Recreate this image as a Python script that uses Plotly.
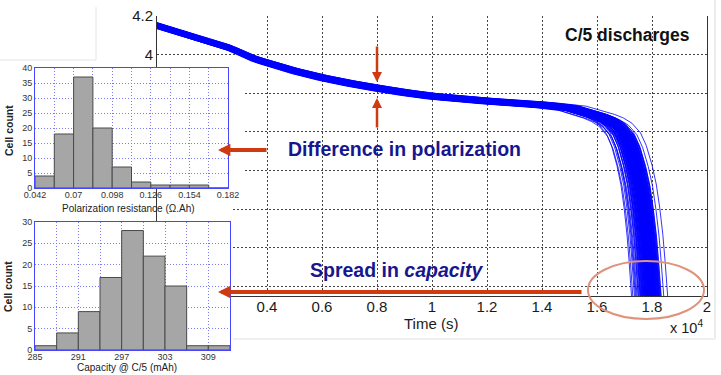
import plotly.graph_objects as go

# ---------------- data ----------------
# C/5 capacity of every cell in the batch (mAh)
CELL_CAPACITY_MAH = [
    287.8,
    288.7, 289.6, 290.1, 290.7,
    291.3, 291.8, 292.1, 292.6, 292.9, 293.2, 293.4, 293.7, 293.9,
    294.2, 294.4, 294.5, 294.8, 295.0, 295.2, 295.3, 295.5, 295.7, 295.9,
    296.0, 296.2, 296.4, 296.5, 296.7, 296.8, 296.9,
    297.05, 297.1, 297.3, 297.4, 297.5, 297.6, 297.8, 297.9, 298.0, 298.1,
    298.2, 298.3, 298.4, 298.5, 298.6, 298.7, 298.8, 298.9, 299.0, 299.1,
    299.2, 299.3, 299.4, 299.5, 299.6, 299.7, 299.8, 299.9,
    300.1, 300.2, 300.4, 300.5, 300.6, 300.8, 300.9, 301.0, 301.2, 301.3,
    301.4, 301.6, 301.7, 301.8, 302.0, 302.1, 302.2, 302.4, 302.5, 302.6,
    302.8, 302.9,
    303.1, 303.3, 303.5, 303.6, 303.8, 304.0, 304.2, 304.3, 304.5, 304.7,
    304.9, 305.1, 305.3, 305.6, 305.9,
    307.4,
    309.7,
]

# polarization voltage shift of every cell relative to the reference profile (mV)
CELL_SHIFT_MV = [
    6, -9, 2, 12, -4, -13, 8, 0, -6, 15,
    -2, 4, -10, 10, -7, 1, 13, -3, -12, 7,
    3, -8, 11, -1, 5, -14, 9, -5, 0, 14,
    -11, 2, 6, -4, 8, -9, -2, 12, 4, -6,
    1, -13, 10, -1, 5, -7, 3, 16, -3, 7,
    -10, 0, 11, -5, 2, -8, 9, -15, 4, -2,
    13, -6, 1, 6, -12, 8, -4, 3, 10, -1,
    -9, 5, -3, 12, 0, -7, 7, -11, 2, 14,
    -5, 4, -2, 9, -8, 1, 11, -4, 6, -16,
    3, -10, 8, -1, 5, -6, 0, 10,
]

# reference C/5 discharge profile (cell of REF_CAPACITY_MAH)
REF_CAPACITY_MAH = 297.7
REF_TIME_S = [0, 500, 1000, 1500, 2000, 2300, 2600, 2900, 3200, 3500,
              3800, 4100, 5000, 6000, 7000, 8000, 9000, 10000, 11000, 12000,
              13000, 14000, 15000, 15500, 16000, 16300, 16600, 16900, 17100, 17300,
              17450, 17570, 17680, 17760, 17830, 17860, 17900]
REF_VOLT = [4.150, 4.128, 4.106, 4.085, 4.062, 4.050, 4.036, 4.018, 3.998, 3.980,
            3.966, 3.953, 3.915, 3.880, 3.851, 3.826, 3.803, 3.784, 3.770, 3.759,
            3.749, 3.739, 3.723, 3.703, 3.680, 3.662, 3.635, 3.585, 3.520, 3.420,
            3.320, 3.200, 3.060, 2.920, 2.790, 2.740, 2.640]

# polarization resistance histogram (Ohm.Ah)
POL_BIN_START = 0.042
POL_BIN_WIDTH = 0.014
POL_COUNTS = [4, 18, 37, 20, 7, 2, 1, 1, 1, 0]
POL_TICKS = [0.042, 0.07, 0.098, 0.126, 0.154, 0.182]

# capacity histogram bins (mAh)
CAP_BIN_START, CAP_BIN_END, CAP_BIN_WIDTH = 285, 312, 3
CAP_TICKS = [285, 291, 297, 303, 309]

# main axes ticks
TIME_TICKS_S = [4000, 6000, 8000, 10000, 12000, 14000, 16000, 18000, 20000]
TIME_TICK_TEXT = ["0.4", "0.6", "0.8", "1", "1.2", "1.4", "1.6", "1.8", "2"]
VOLT_TICKS = [2.8, 3.0, 3.2, 3.4, 3.6, 3.8, 4.0, 4.2]
VOLT_TICK_TEXT = ["", "", "", "", "", "", "4", "4.2"]

# ---------------- geometry helpers ----------------
W, H = 721, 375
FONT = "Liberation Sans, Arial, sans-serif"
NAVY = "#16168f"
RED = "#d03a10"


def fx(px):
    return px / W


def fy(py):
    return 1 - py / H


# main plot frame in pixels
MX0, MX1, MY0, MY1 = 157, 707, 16, 296
T_MAX, V_MIN, V_MAX = 20000, 2.75, 4.2


def t_of(px):
    return (px - MX0) / (MX1 - MX0) * T_MAX


def v_of(py):
    return V_MAX - (py - MY0) / (MY1 - MY0) * (V_MAX - V_MIN)


# ---------------- curves ----------------
xs, ys = [], []
for cap, shift in zip(CELL_CAPACITY_MAH, CELL_SHIFT_MV):
    k = cap / REF_CAPACITY_MAH
    xs += [t * k for t in REF_TIME_S] + [None]
    ys += [v + shift / 1000.0 for v in REF_VOLT] + [None]

fig = go.Figure()

# white panel under the insets (hides the main grid there)
cover_px = [(100, 60), (245, 60), (245, 200), (232, 200), (232, 320), (100, 320)]
fig.add_trace(go.Scatter(
    x=[t_of(p[0]) for p in cover_px], y=[v_of(p[1]) for p in cover_px],
    fill="toself", fillcolor="white", mode="lines", line=dict(width=0, color="white"),
    hoverinfo="skip", showlegend=False, xaxis="x", yaxis="y"))

fig.add_trace(go.Scatter(
    x=xs, y=ys, mode="lines", line=dict(color="#0000ff", width=0.8),
    hoverinfo="skip", showlegend=False, xaxis="x", yaxis="y"))

# polarization histogram
pol_centers = [POL_BIN_START + POL_BIN_WIDTH * (i + 0.5) for i in range(len(POL_COUNTS))]
fig.add_trace(go.Bar(
    x=pol_centers, y=POL_COUNTS, width=POL_BIN_WIDTH,
    marker=dict(color="#a6a6a6", line=dict(color="#4a4a4a", width=1)),
    showlegend=False, xaxis="x2", yaxis="y2"))

# capacity histogram
fig.add_trace(go.Histogram(
    x=CELL_CAPACITY_MAH, autobinx=False,
    xbins=dict(start=CAP_BIN_START, end=CAP_BIN_END, size=CAP_BIN_WIDTH),
    marker=dict(color="#a6a6a6", line=dict(color="#4a4a4a", width=1)),
    showlegend=False, xaxis="x3", yaxis="y3"))

main_grid = dict(showgrid=True, gridcolor="#444444", griddash="2px,2px", gridwidth=1,
                 zeroline=False, ticks="", layer="below traces", fixedrange=True,
                 automargin=False, showline=True, linecolor="#333333", linewidth=1,
                 tickfont=dict(family=FONT, size=15, color="#1a1a1a"))

inset_grid = dict(showgrid=True, gridcolor="#7a7aff", griddash="1px,2px", gridwidth=1,
                  zeroline=False, ticks="", showline=True, mirror=True, fixedrange=True,
                  automargin=False, linecolor="#4646ff", linewidth=1,
                  tickfont=dict(family=FONT, size=9, color="#333333"))

pol_edges = [round(POL_BIN_START + POL_BIN_WIDTH * i, 3) for i in range(len(POL_COUNTS) + 1)]
pol_text = [("%g" % e) if any(abs(e - t) < 1e-9 for t in POL_TICKS) else "" for e in pol_edges]
cap_edges = list(range(CAP_BIN_START, CAP_BIN_END + 1, CAP_BIN_WIDTH))
cap_text = [str(e) if e in CAP_TICKS else "" for e in cap_edges]

fig.update_layout(
    width=W, height=H, margin=dict(l=0, r=0, t=0, b=0, autoexpand=False),
    paper_bgcolor="white", plot_bgcolor="white", bargap=0, dragmode=False,
    font=dict(family=FONT),
    xaxis=dict(domain=[fx(MX0), fx(MX1)], range=[0, T_MAX], anchor="y",
               tickvals=TIME_TICKS_S, ticktext=TIME_TICK_TEXT, ticklabelstandoff=-3,
               **main_grid),
    yaxis=dict(domain=[fy(MY1), fy(MY0)], range=[V_MIN, V_MAX], anchor="x",
               tickvals=VOLT_TICKS, ticktext=VOLT_TICK_TEXT, mirror=True, **main_grid),
    xaxis2=dict(domain=[fx(35), fx(228)], range=[0.042, 0.182], anchor="y2",
                tickvals=pol_edges, ticktext=pol_text, ticklabelstandoff=-2, **inset_grid),
    yaxis2=dict(domain=[fy(188), fy(68)], range=[0, 40], anchor="x2", dtick=5, **inset_grid),
    xaxis3=dict(domain=[fx(35), fx(230)], range=[CAP_BIN_START, CAP_BIN_END], anchor="y3",
                tickvals=cap_edges, ticktext=cap_text, ticklabelstandoff=-2, **inset_grid),
    yaxis3=dict(domain=[fy(350), fy(222)], range=[0, 30], anchor="x3", dtick=5, **inset_grid),
)

annotations = [
    dict(text="<b>C/5 discharges</b>", x=fx(627), y=fy(35),
         font=dict(family=FONT, size=17.5, color="#111")),
    dict(text="<b>Difference in polarization</b>", x=fx(404), y=fy(149),
         font=dict(family=FONT, size=19.5, color=NAVY)),
    dict(text="<b>Spread in <i>capacity</i></b>", x=fx(396), y=fy(270),
         font=dict(family=FONT, size=19.5, color=NAVY)),
    dict(text="Time (s)", x=fx(431), y=fy(323),
         font=dict(family=FONT, size=15, color="#1a1a1a")),
    dict(text="x 10<sup>4</sup>", x=fx(686), y=fy(327),
         font=dict(family=FONT, size=14.5, color="#1a1a1a")),
    dict(text="Polarization resistance (\u03a9.Ah)", x=fx(128), y=fy(208),
         font=dict(family=FONT, size=10, color="#222")),
    dict(text="Capacity @ C/5 (mAh)", x=fx(127), y=fy(367),
         font=dict(family=FONT, size=10, color="#222")),
    dict(text="<b>Cell count</b>", x=fx(9), y=fy(131), textangle=-90,
         font=dict(family=FONT, size=10.5, color="#222")),
    dict(text="<b>Cell count</b>", x=fx(8), y=fy(287), textangle=-90,
         font=dict(family=FONT, size=10.5, color="#222")),
]
for a in annotations:
    a.update(xref="paper", yref="paper", showarrow=False, xanchor="center", yanchor="middle")

# red pointers: (tip_x, tip_y, tail_x, tail_y, shaft width, head scale)
ARROWS = [
    (377, 82, 377, 45, 2.5, 0.8),
    (377, 98, 377, 129, 2.5, 0.8),
    (218, 150, 268, 150, 4, 0.62),
    (218, 292, 583, 292, 4, 0.62),
]
for tx, ty, sx, sy, w, s in ARROWS:
    annotations.append(dict(
        x=fx(tx), y=fy(ty), xref="paper", yref="paper", text="",
        showarrow=True, arrowhead=2, arrowwidth=w, arrowsize=s, arrowcolor=RED,
        ax=sx - tx, ay=sy - ty, axref="pixel", ayref="pixel", standoff=0))
fig.update_layout(annotations=annotations)

shapes = [
    # highlight of the end-of-discharge spread
    dict(type="circle", xref="paper", yref="paper",
         x0=fx(588), x1=fx(704), y0=fy(319), y1=fy(261),
         line=dict(color="#e0937b", width=2)),
    # faint page edges
    dict(type="line", xref="paper", yref="paper", x0=fx(96), x1=fx(96), y0=fy(7), y1=fy(60),
         line=dict(color="#e4e4e4", width=1)),
    dict(type="line", xref="paper", yref="paper", x0=fx(0), x1=fx(96), y0=fy(60), y1=fy(60),
         line=dict(color="#e4e4e4", width=1)),
    dict(type="line", xref="paper", yref="paper", x0=fx(715), x1=fx(715), y0=fy(0), y1=fy(339),
         line=dict(color="#ececec", width=2)),
    dict(type="line", xref="paper", yref="paper", x0=fx(233), x1=fx(715), y0=fy(339), y1=fy(339),
         line=dict(color="#f0f0f0", width=2)),
]
fig.update_layout(shapes=shapes)

fig.write_html(
    "out.html",
    config={"staticPlot": True, "displayModeBar": False},
    post_script="document.body.style.margin='0';",
)
